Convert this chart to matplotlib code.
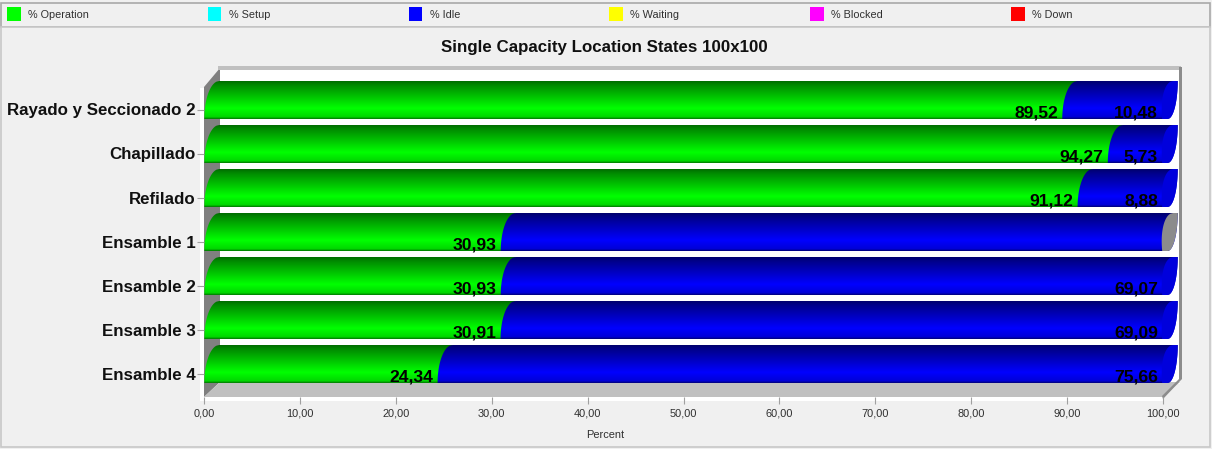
import numpy as np
import matplotlib
matplotlib.use("Agg")
import matplotlib.pyplot as plt
from matplotlib.colors import LinearSegmentedColormap
from matplotlib.patches import PathPatch, Polygon, Rectangle
from matplotlib.path import Path

locations = ["Rayado y Seccionado 2", "Chapillado", "Refilado", "Ensamble 1",
             "Ensamble 2", "Ensamble 3", "Ensamble 4"]
operation = [89.52, 94.27, 91.12, 30.93, 30.93, 30.91, 24.34]
idle = [10.48, 5.73, 8.88, 69.07, 69.07, 69.09, 75.66]
idle_label_shown = [True, True, True, False, True, True, True]
x_ticks = [0, 10, 20, 30, 40, 50, 60, 70, 80, 90, 100]
legend_names = ["% Operation", "% Setup", "% Idle", "% Waiting", "% Blocked", "% Down"]
legend_colors = ["#00ff00", "#00ffff", "#0000ff", "#ffff00", "#ff00ff", "#ff0000"]

W, H = 1212, 449
plt.rcParams["font.family"] = ["Liberation Sans", "DejaVu Sans"]
BG = "#f0f0f0"
fig = plt.figure(figsize=(W / 100, H / 100), dpi=100, facecolor=BG)

# chrome in pixel coordinates
bg = fig.add_axes([0, 0, 1, 1], zorder=0)
bg.set_xlim(0, W)
bg.set_ylim(H, 0)
bg.axis("off")
bg.add_patch(Rectangle((1, 3), W - 3, 24, fc=BG, ec="#a8a8a8", lw=1.2))
bg.add_patch(Rectangle((1, 27), W - 3, 420, fc=BG, ec="#c8c8c8", lw=1.2))
for i, (name, col) in enumerate(zip(legend_names, legend_colors)):
    x = 7 + i * 200.8
    bg.add_patch(Rectangle((x, 7), 13.5, 14, fc=col, ec="none"))
    bg.text(x + 21, 15.5, name, fontsize=7.8, color="#303030", va="center", ha="left")
bg.text(604.5, 47.5, "Single Capacity Location States 100x100", fontsize=12.2,
        fontweight="bold", ha="center", va="center", color="#101010")
bg.text(605, 434.5, "Percent", fontsize=7.9, ha="center", va="center", color="#303030")

bg.add_patch(Rectangle((200, 88), 962.5, 313, fc="white", ec="none"))
bg.add_patch(Rectangle((220, 68), 960, 316, fc="white", ec="none"))
bg.add_patch(Polygon([(204, 87), (220, 68), (220, 382), (204, 397)], fc="#808080", ec="none"))
bg.add_patch(Polygon([(204, 397), (220, 382), (1180, 382), (1162.5, 397)], fc="#c0c0c0", ec="none"))
bg.add_patch(Rectangle((218, 66), 963, 4, fc="#c0c0c0", ec="none"))
bg.add_patch(Polygon([(1179, 67), (1182, 67), (1182, 379), (1163, 399), (1162, 396), (1179, 379)],
                     fc="#8c8c8c", ec="none"))

# main axes: x 0-100 spans 204.3-1162.7 px, one row per 44 px
left, right, top, bottom = 204.3, 1162.7, 85.5, 396.5
ax = fig.add_axes([left / W, 1 - bottom / H, (right - left) / W, (bottom - top) / H], zorder=1)
ax.patch.set_visible(False)
for s in ax.spines.values():
    s.set_visible(False)

px_x = 100 / (right - left)
px_y = 1 / 44
bar_top = -28.5 * px_y
bar_bot = 9.5 * px_y
depth = 15 * px_x
cap_base = 5 * px_x
h = np.linspace(0, 1, 60)

green_cmap = LinearSegmentedColormap.from_list(
    "g", [(0, "#006e00"), (0.1, "#008a00"), (0.72, "#00ff00"), (0.95, "#00d800"), (1, "#008000")])
blue_cmap = LinearSegmentedColormap.from_list(
    "b", [(0, "#00006e"), (0.1, "#00008a"), (0.72, "#0000ff"), (0.95, "#0000d8"), (1, "#000080")])
ramp = np.linspace(0, 1, 64).reshape(-1, 1)


def left_edge(x0, yc):
    # quarter ellipse: upright at the bottom, leaning over to the right at the top
    xs = x0 + depth * (1 - np.sqrt(1 - h ** 2))
    ys = yc + bar_bot + (bar_top - bar_bot) * h
    return np.column_stack([xs, ys])


def right_edge(x1, yc):
    xs = x1 + cap_base + (depth - cap_base) * np.sqrt(1 - (1 - h) ** 2)
    ys = yc + bar_bot + (bar_top - bar_bot) * h
    return np.column_stack([xs, ys])[::-1]


def draw_segment(x0, x1, yc, cmap, z):
    verts = np.vstack([left_edge(x0, yc), right_edge(x1, yc)])
    clip = PathPatch(Path(verts, closed=False), transform=ax.transData)
    im = ax.imshow(ramp, cmap=cmap, vmin=0, vmax=1, aspect="auto", zorder=z, interpolation="bilinear",
                   extent=(x0 - 2, x1 + 4, yc + bar_bot, yc + bar_top))
    im.set_clip_box(fig.bbox)
    im.set_clip_path(clip)


for i in range(len(locations)):
    op, id_ = operation[i], idle[i]
    end = op + id_
    draw_segment(0, op, i, green_cmap, 2)
    draw_segment(op, end, i, blue_cmap, 3)
    # end face of the cylinder, a touch narrower at the top than the body's curve
    cap = np.vstack([left_edge(end - 0.05, i), right_edge(end, i)])
    cap[:60, 0] -= 4 * px_x * h
    cap_col = "#0000dc" if idle_label_shown[i] else "#8c8c8c"
    ax.add_patch(Polygon(cap, fc=cap_col, ec="none", zorder=4, clip_on=False))
    ax.text(op - 0.45, i + bar_bot - 2 * px_y, f"{op:.2f}".replace(".", ","),
            fontsize=12.6, fontweight="bold", ha="right", va="baseline", color="black", zorder=5)
    if idle_label_shown[i]:
        ax.text(end - 0.5, i + bar_bot - 2 * px_y, f"{id_:.2f}".replace(".", ","),
                fontsize=12.6, fontweight="bold", ha="right", va="baseline", color="black", zorder=5)

ax.set_xlim(0, 100)
ax.set_ylim((bottom - 109.5) * px_y, (top - 109.5) * px_y)
ax.set_xticks(x_ticks)
ax.set_xticklabels([f"{v:.2f}".replace(".", ",") for v in x_ticks], fontsize=7.9, color="#303030")
ax.set_yticks(range(len(locations)))
ax.set_yticklabels(locations, fontsize=12.2, fontweight="bold", color="#101010")
ax.tick_params(axis="x", length=5, width=0.8, color="#a0a0a0", pad=4)
ax.tick_params(axis="y", length=5, width=0.8, color="#a0a0a0", pad=1)

fig.savefig("out.png", dpi=100, facecolor=BG)
